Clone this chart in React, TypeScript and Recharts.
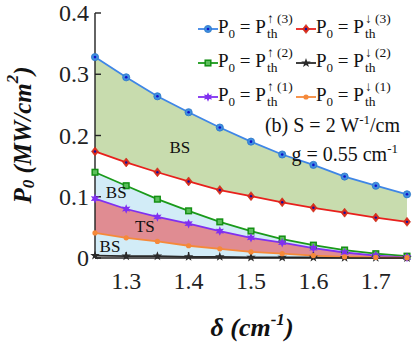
import React from "react"
import { ComposedChart, Area, Line, XAxis, YAxis, ReferenceDot, Legend } from "recharts"

const DELTA = [1.25, 1.3, 1.35, 1.4, 1.45, 1.5, 1.55, 1.6, 1.65, 1.7, 1.75]
const UP3 = [0.328, 0.295, 0.264, 0.238, 0.213, 0.19, 0.169, 0.152, 0.133, 0.118, 0.104]
const DOWN3 = [0.174, 0.156, 0.14, 0.125, 0.111, 0.101, 0.091, 0.082, 0.074, 0.066, 0.059]
const UP2 = [0.14, 0.118, 0.096, 0.077, 0.059, 0.044, 0.031, 0.021, 0.013, 0.007, 0.003]
const DOWN2 = [0.004, 0.003, 0.003, 0.002, 0.002, 0.001, 0.001, 0.001, 0.0005, 0.0003, 0.0002]
const UP1 = [0.097, 0.08, 0.067, 0.056, 0.044, 0.033, 0.025, 0.016, 0.009, 0.004, 0.001]
const DOWN1 = [0.041, 0.033, 0.027, 0.02, 0.015, 0.01, 0.007, 0.004, 0.002, 0.001, 0.0005]

const X_TICKS = [1.3, 1.4, 1.5, 1.6, 1.7]
const Y_TICKS = [0, 0.1, 0.2, 0.3, 0.4]

const data = DELTA.map((d, i) => ({
  d,
  up3: UP3[i], down3: DOWN3[i], up2: UP2[i], down2: DOWN2[i], up1: UP1[i], down1: DOWN1[i],
  band3: [DOWN3[i], UP3[i]],
  band2: [UP1[i], UP2[i]],
  band1: [DOWN1[i], UP1[i]],
  band0: [DOWN2[i], DOWN1[i]],
}))

const FONT = "'Liberation Serif', 'DejaVu Serif', serif"

function starPoints(cx: number, cy: number, n: number, ro: number, ri: number) {
  const pts: string[] = []
  for (let k = 0; k < n * 2; k++) {
    const r = k % 2 === 0 ? ro : ri
    const a = -Math.PI / 2 + (k * Math.PI) / n
    pts.push(`${cx + r * Math.cos(a)},${cy + r * Math.sin(a)}`)
  }
  return pts.join(" ")
}

function marker(kind: string, cx: number, cy: number, key?: any) {
  switch (kind) {
    case "blue":
      return (
        <g key={key}>
          <circle cx={cx} cy={cy} r={3.6} fill="#3f8ee0" stroke="#2f78c8" strokeWidth={0.8} />
          <circle cx={cx} cy={cy} r={1.3} fill="#1010c8" />
        </g>
      )
    case "red":
      return (
        <g key={key}>
          <polygon points={`${cx},${cy - 4.5} ${cx + 3.5},${cy} ${cx},${cy + 4.5} ${cx - 3.5},${cy}`} fill="#e02a1c" stroke="#c0301a" strokeWidth={0.6} />
          <circle cx={cx} cy={cy} r={1.2} fill="#1010a0" />
        </g>
      )
    case "green":
      return (
        <g key={key}>
          <rect x={cx - 2.8} y={cy - 2.8} width={5.6} height={5.6} fill="#5cbf5c" stroke="#149014" strokeWidth={1.5} />
        </g>
      )
    case "black":
      return <polygon key={key} points={starPoints(cx, cy, 5, 5, 2)} fill="#2a2a2a" />
    case "purple":
      return <polygon key={key} points={starPoints(cx, cy, 6, 4.8, 2.4)} fill="#8030f0" />
    default:
      return <circle key={key} cx={cx} cy={cy} r={2.6} fill="#f5893a" />
  }
}

const dotFn = (kind: string) => (p: any) => marker(kind, p.cx, p.cy, p.index)

const SERIES = [
  { key: "up3", color: "#3f86e6", kind: "blue", sup: "↑ (3)" },
  { key: "down3", color: "#e8201c", kind: "red", sup: "↓ (3)" },
  { key: "up2", color: "#1a9a1a", kind: "green", sup: "↑ (2)" },
  { key: "down2", color: "#2a2a2a", kind: "black", sup: "↓ (2)" },
  { key: "up1", color: "#8030f0", kind: "purple", sup: "↑ (1)" },
  { key: "down1", color: "#f5893a", kind: "orange", sup: "↓ (1)" },
]

function LegendBox() {
  return (
    <div style={{ fontFamily: FONT, color: "#111", fontSize: 19 }}>
      <div style={{ display: "grid", gridTemplateColumns: "98px 112px" }}>
        {SERIES.map((s) => (
          <div key={s.key} style={{ display: "flex", alignItems: "center", height: 34 }}>
            <svg width={20} height={12} style={{ marginRight: 0 }}>
              <line x1={0} y1={6} x2={20} y2={6} stroke={s.color} strokeWidth={1.8} />
              {marker(s.kind, 10, 6)}
            </svg>
            <span style={{ whiteSpace: "nowrap" }}>
              P<sub style={{ fontSize: 13 }}>0</sub> = P
            </span>
            <span style={{ display: "inline-flex", flexDirection: "column", fontSize: 13.5, lineHeight: "15px", marginLeft: 1, marginTop: -6 }}>
              <span style={{ whiteSpace: "nowrap" }}>{s.sup}</span>
              <span>th</span>
            </span>
          </div>
        ))}
      </div>
      <div style={{ textAlign: "right", width: 202, fontSize: 20, lineHeight: "23px", marginTop: -6 }}>
        (b) S = 2 W<sup style={{ fontSize: 13 }}>-1</sup>/cm
      </div>
      <div style={{ textAlign: "right", width: 200, fontSize: 20, lineHeight: "23px" }}>
        g = 0.55 cm<sup style={{ fontSize: 13 }}>-1</sup>
      </div>
    </div>
  )
}

function XTick(p: any) {
  return (
    <text x={p.x} y={p.y} dy={17} textAnchor="middle" style={{ fontFamily: FONT, fontSize: 24 }} fill="#222">
      {p.payload.value.toFixed(1)}
    </text>
  )
}

function YTick(p: any) {
  const v = p.payload.value
  return (
    <text x={p.x} y={p.y} dy={8} textAnchor="end" style={{ fontFamily: FONT, fontSize: 24 }} fill="#222">
      {v === 0 ? "0" : v.toFixed(1)}
    </text>
  )
}

const regionLabel = (value: string) => ({
  value,
  position: "center" as const,
  fill: "#111",
  fontSize: 17,
  style: { fontFamily: FONT },
})

export default function App() {
  return (
    <div style={{ position: "absolute", left: 0, top: 0, width: 415, height: 348, background: "#fff" }}>
      <ComposedChart width={415} height={348} data={data} margin={{ top: 13, right: 8, left: 0, bottom: 0 }}>
        <XAxis
          dataKey="d" type="number" domain={[1.25, 1.75]} ticks={X_TICKS} height={90}
          tickSize={-6} tickMargin={20} stroke="#222" strokeWidth={1.4} tick={<XTick />}
        />
        <XAxis
          xAxisId="top" orientation="top" dataKey="d" type="number" domain={[1.25, 1.75]}
          ticks={X_TICKS} height={0} tickSize={-6} stroke="#222" strokeWidth={1.4}
          tickFormatter={() => ""}
        />
        <YAxis
          type="number" domain={[0, 0.4]} ticks={Y_TICKS} width={95}
          tickSize={-6} tickMargin={12} stroke="#222" strokeWidth={1.4} tick={<YTick />}
        />
        <YAxis
          yAxisId="right" orientation="right" type="number" domain={[0, 0.4]} ticks={Y_TICKS}
          width={0} tickSize={-6} stroke="#222" strokeWidth={1.4} tickFormatter={() => ""}
        />
        <Area dataKey="band3" type="linear" stroke="none" fill="#c8dcae" fillOpacity={1} isAnimationActive={false} activeDot={false} />
        <Area dataKey="band2" type="linear" stroke="none" fill="#d2ecf7" fillOpacity={1} isAnimationActive={false} activeDot={false} />
        <Area dataKey="band1" type="linear" stroke="none" fill="#e08c92" fillOpacity={1} isAnimationActive={false} activeDot={false} />
        <Area dataKey="band0" type="linear" stroke="none" fill="#d2ecf7" fillOpacity={1} isAnimationActive={false} activeDot={false} />
        {SERIES.map((s) => (
          <Line
            key={s.key} dataKey={s.key} type="linear" stroke={s.color} strokeWidth={1.8}
            dot={dotFn(s.kind)} activeDot={false} isAnimationActive={false}
          />
        ))}
        <ReferenceDot x={1.386} y={0.181} r={0} fill="none" stroke="none" label={regionLabel("BS")} />
        <ReferenceDot x={1.284} y={0.108} r={0} fill="none" stroke="none" label={regionLabel("BS")} />
        <ReferenceDot x={1.33} y={0.052} r={0} fill="none" stroke="none" label={regionLabel("TS")} />
        <ReferenceDot x={1.274} y={0.019} r={0} fill="none" stroke="none" label={regionLabel("BS")} />
        <Legend
          layout="vertical" align="center" verticalAlign="middle"
          wrapperStyle={{ position: "absolute", left: 198, top: 12, width: 214 }}
          content={() => <LegendBox />}
        />
        <text
          x={22} y={135} transform="rotate(-90 22 135)" textAnchor="middle" dominantBaseline="central"
          style={{ fontFamily: FONT, fontWeight: "bold", fontStyle: "italic", fontSize: 25 }} fill="#111"
        >
          P<tspan style={{ fontSize: 17 }} dy={6}>0</tspan>
          <tspan dy={-6}> (MW/cm</tspan>
          <tspan style={{ fontSize: 17 }} dy={-10}>2</tspan>
          <tspan dy={10}>)</tspan>
        </text>
        <text
          x={252} y={336} textAnchor="middle"
          style={{ fontFamily: FONT, fontWeight: "bold", fontStyle: "italic", fontSize: 26 }} fill="#111"
        >
          δ (cm<tspan style={{ fontSize: 17 }} dy={-11}>-1</tspan>
          <tspan dy={11}>)</tspan>
        </text>
      </ComposedChart>
    </div>
  )
}
